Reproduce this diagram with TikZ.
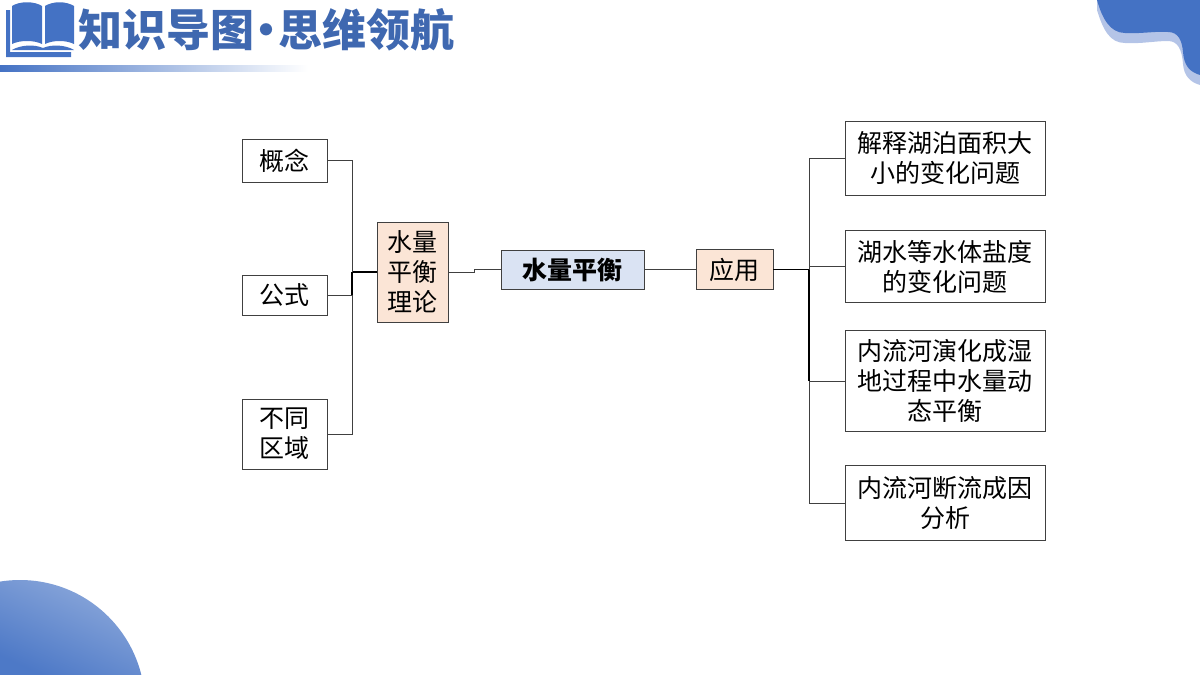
\documentclass[tikz,border=0pt]{standalone}
\usepackage{xcolor}
\usepackage{fontspec}
\setmainfont{Noto Sans CJK SC}
\usetikzlibrary{positioning}

\definecolor{deckblue}{HTML}{4472C4}
\definecolor{decklight}{HTML}{B4C4E7}
\definecolor{peach}{HTML}{FBE5D6}
\definecolor{paleblue}{HTML}{DAE3F3}
\definecolor{titleblue}{HTML}{3F68B0}

\begin{document}
\begin{tikzpicture}[
    x=1pt, y=-1pt,
    node distance=50pt,
    leaf/.style={rectangle, draw=black!75, line width=1pt, fill=white, align=center, outer sep=0pt, inner sep=0pt, font=\fontsize{25}{30}\selectfont},
    topic/.style={leaf, fill=peach},
    core/.style={leaf, fill=paleblue, font=\fontsize{25}{30}\selectfont\bfseries},
    branch/.style={draw=black!75, line width=1pt},
    trunk/.style={draw=black, line width=1.4pt}
]
\useasboundingbox (0,0) rectangle (1200,675);

% Corner decoration
\fill[decklight] (1097,0) -- (1097,10) .. controls (1103,30) and (1110,43) .. (1125,43)
    .. controls (1140,44) and (1155,41) .. (1168,41)
    .. controls (1178,41) and (1182,50) .. (1183,64)
    .. controls (1184,76) and (1190,82) .. (1200,85) -- (1200,0) -- cycle;
\fill[deckblue] (1097,0) .. controls (1102,18) and (1110,33) .. (1125,33)
    .. controls (1140,34) and (1155,31) .. (1168,32)
    .. controls (1178,32) and (1182,40) .. (1183,52)
    .. controls (1184,66) and (1190,72) .. (1200,75) -- (1200,0) -- cycle;
\begin{scope}
    \clip (20,705) circle (125);
    \shade[left color=deckblue!60, right color=deckblue!95, shading angle=-25] (0,580) rectangle (145,675);
\end{scope}

% Header
\fill[deckblue] (12,6) .. controls (20,1) and (34,1) .. (42,6) -- (42,44) .. controls (34,40) and (20,40) .. (12,44) -- cycle;
\fill[deckblue] (45,6) .. controls (53,1) and (66,1) .. (74,6) -- (74,44) .. controls (66,40) and (53,40) .. (45,44) -- cycle;
\fill[deckblue] (6,10) -- (10,10) -- (10,52) -- (71,52) -- (71,57) -- (6,57) -- cycle;
\fill[deckblue] (12,50) .. controls (20,45) and (34,44) .. (43,48) .. controls (52,44) and (66,45) .. (74,50) -- cycle;
\node[text=titleblue, font=\fontsize{44}{44}\selectfont\bfseries, inner sep=0pt, anchor=west] (title) at (78,30) {知识导图\hspace{-10pt}·\hspace{-10pt}思维领航};
\shade[left color=deckblue, right color=white] (0,65) rectangle (308,71);

% Centre
\node[core, minimum width=143pt, minimum height=39pt] (balance) at (572.5,269.5) {水量平衡};
\node[topic, minimum width=71pt, minimum height=100pt, left=53pt of balance, yshift=-2.5pt] (theory) {水量\\平衡\\理论};
\node[topic, minimum width=77pt, minimum height=40pt, right=52pt of balance] (apply) {应用};

% Left column
\node[leaf, minimum width=85pt, minimum height=40pt, left=50pt of theory, yshift=-23pt] (formula) {公式};
\node[leaf, minimum width=85pt, minimum height=43pt, above=93pt of formula] (concept) {概念};
\node[leaf, minimum width=85pt, minimum height=70pt, below=84pt of formula] (region) {不同\\区域};

% Right column
\node[leaf, minimum width=200pt, minimum height=72pt, right=72pt of apply, yshift=3pt] (salinity) {湖水等水体盐度\\的变化问题};
\node[leaf, minimum width=200pt, minimum height=74pt, above=35pt of salinity] (lakearea) {解释湖泊面积大\\小的变化问题};
\node[leaf, minimum width=200pt, minimum height=101pt, below=28pt of salinity] (wetland) {内流河演化成湿\\地过程中水量动\\态平衡};
\node[leaf, minimum width=200pt, minimum height=75pt, below=34pt of wetland] (cutoff) {内流河断流成因\\分析};

% Connectors - left
\draw[trunk] (theory.west) -- ++(-25,0) coordinate (leftbus);
\draw[branch] (concept.east) -| (leftbus);
\draw[branch] (region.east) -| (leftbus);
\draw[branch] (formula.east) -| (leftbus);
\draw[trunk] (leftbus) -- (leftbus |- formula.east);

% Connectors - centre
\draw[branch] (theory.east) -- ++(26,0) |- (balance.west);
\draw[branch] (balance.east) -- (apply.west);

% Connectors - right
\draw[trunk] (apply.east) -- ++(36,0) coordinate (rightbus);
\draw[branch] (lakearea.west) -| (rightbus);
\draw[branch] (salinity.west) -| (rightbus);
\draw[branch] (wetland.west) -| (rightbus);
\draw[branch] (cutoff.west) -| (rightbus);
\draw[trunk] (rightbus) -- (rightbus |- wetland.west);

\end{tikzpicture}
\end{document}
